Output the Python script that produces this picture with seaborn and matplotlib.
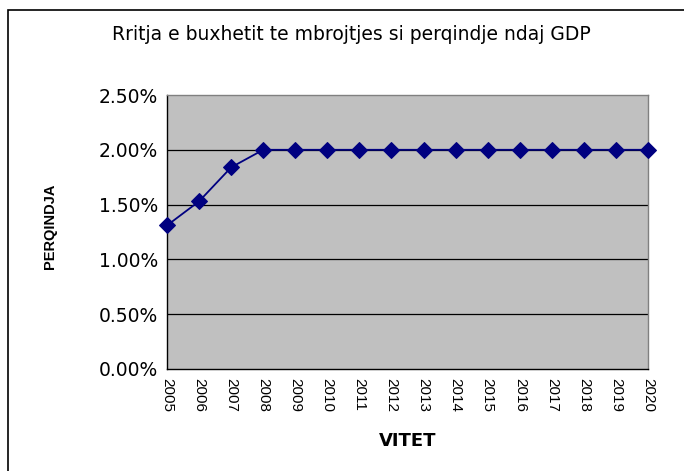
import matplotlib
matplotlib.use("Agg")
import matplotlib.pyplot as plt
import matplotlib.patches as mpatches
import seaborn as sns
import pandas as pd

# data
years = [2005, 2006, 2007, 2008, 2009, 2010, 2011, 2012,
         2013, 2014, 2015, 2016, 2017, 2018, 2019, 2020]
share = [1.31, 1.53, 1.84, 2.00, 2.00, 2.00, 2.00, 2.00,
         2.00, 2.00, 2.00, 2.00, 2.00, 2.00, 2.00, 2.00]
y_ticks = [0.0, 0.5, 1.0, 1.5, 2.0, 2.5]

df = pd.DataFrame({"year": years, "share": share})

sns.set_style("white")
plt.rcParams['font.family'] = ['DejaVu Sans']
plt.rcParams['text.color'] = 'black'
plt.rcParams['xtick.color'] = 'black'
plt.rcParams['ytick.color'] = 'black'

fig = plt.figure(figsize=(6.84, 4.71), dpi=100)
ax = fig.add_axes([0.2442, 0.2166, 0.7032, 0.5817])
ax.set_facecolor('#C0C0C0')

# outer chart frame
frame = mpatches.Rectangle((8 / 684, -0.05), 1.0, 1 - 10 / 471 + 0.05,
                           transform=fig.transFigure, fill=False,
                           edgecolor='black', linewidth=1.2)
fig.patches.append(frame)

for yv in y_ticks[1:-1]:
    ax.axhline(yv, color='black', linewidth=0.9, zorder=1)

sns.lineplot(data=df, x="year", y="share", ax=ax, color='#000080',
             marker='D', markersize=8.5, markeredgecolor='#000080',
             linewidth=1.3, clip_on=False, zorder=3)

ax.set_xlim(2005, 2020)
ax.set_ylim(0, 2.5)
ax.set_yticks(y_ticks)
ax.set_yticklabels([f"{v:.2f}%" for v in y_ticks], fontsize=13.5,
                   color='black')
ax.set_xticks(years)
ax.set_xticklabels([str(y) for y in years], rotation=-90, fontsize=11,
                   family='Liberation Sans', color='black')
ax.tick_params(axis='both', direction='out', length=4.5, width=0.9,
               color='black', pad=2)

for side in ['left', 'bottom']:
    ax.spines[side].set_color('black')
    ax.spines[side].set_linewidth(1.0)
for side in ['top', 'right']:
    ax.spines[side].set_visible(True)
    ax.spines[side].set_color('#808080')
    ax.spines[side].set_linewidth(1.0)

ax.set_xlabel("")
ax.set_ylabel("")
fig.text(408 / 684, 1 - 441 / 471, "VITET", ha='center', va='center',
         fontsize=13, fontweight='bold', color='black')
fig.text(50 / 684, 1 - 226 / 471, "PERQINDJA", rotation=90,
         ha='center', va='center', fontsize=10.5, fontweight='bold',
         family='Liberation Sans', color='black')

fig.text(351 / 684, 1 - 35 / 471,
         "Rritja e buxhetit te mbrojtjes si perqindje ndaj GDP",
         ha='center', va='center', fontsize=13.5, color='black')

fig.savefig("out.png", dpi=100)
